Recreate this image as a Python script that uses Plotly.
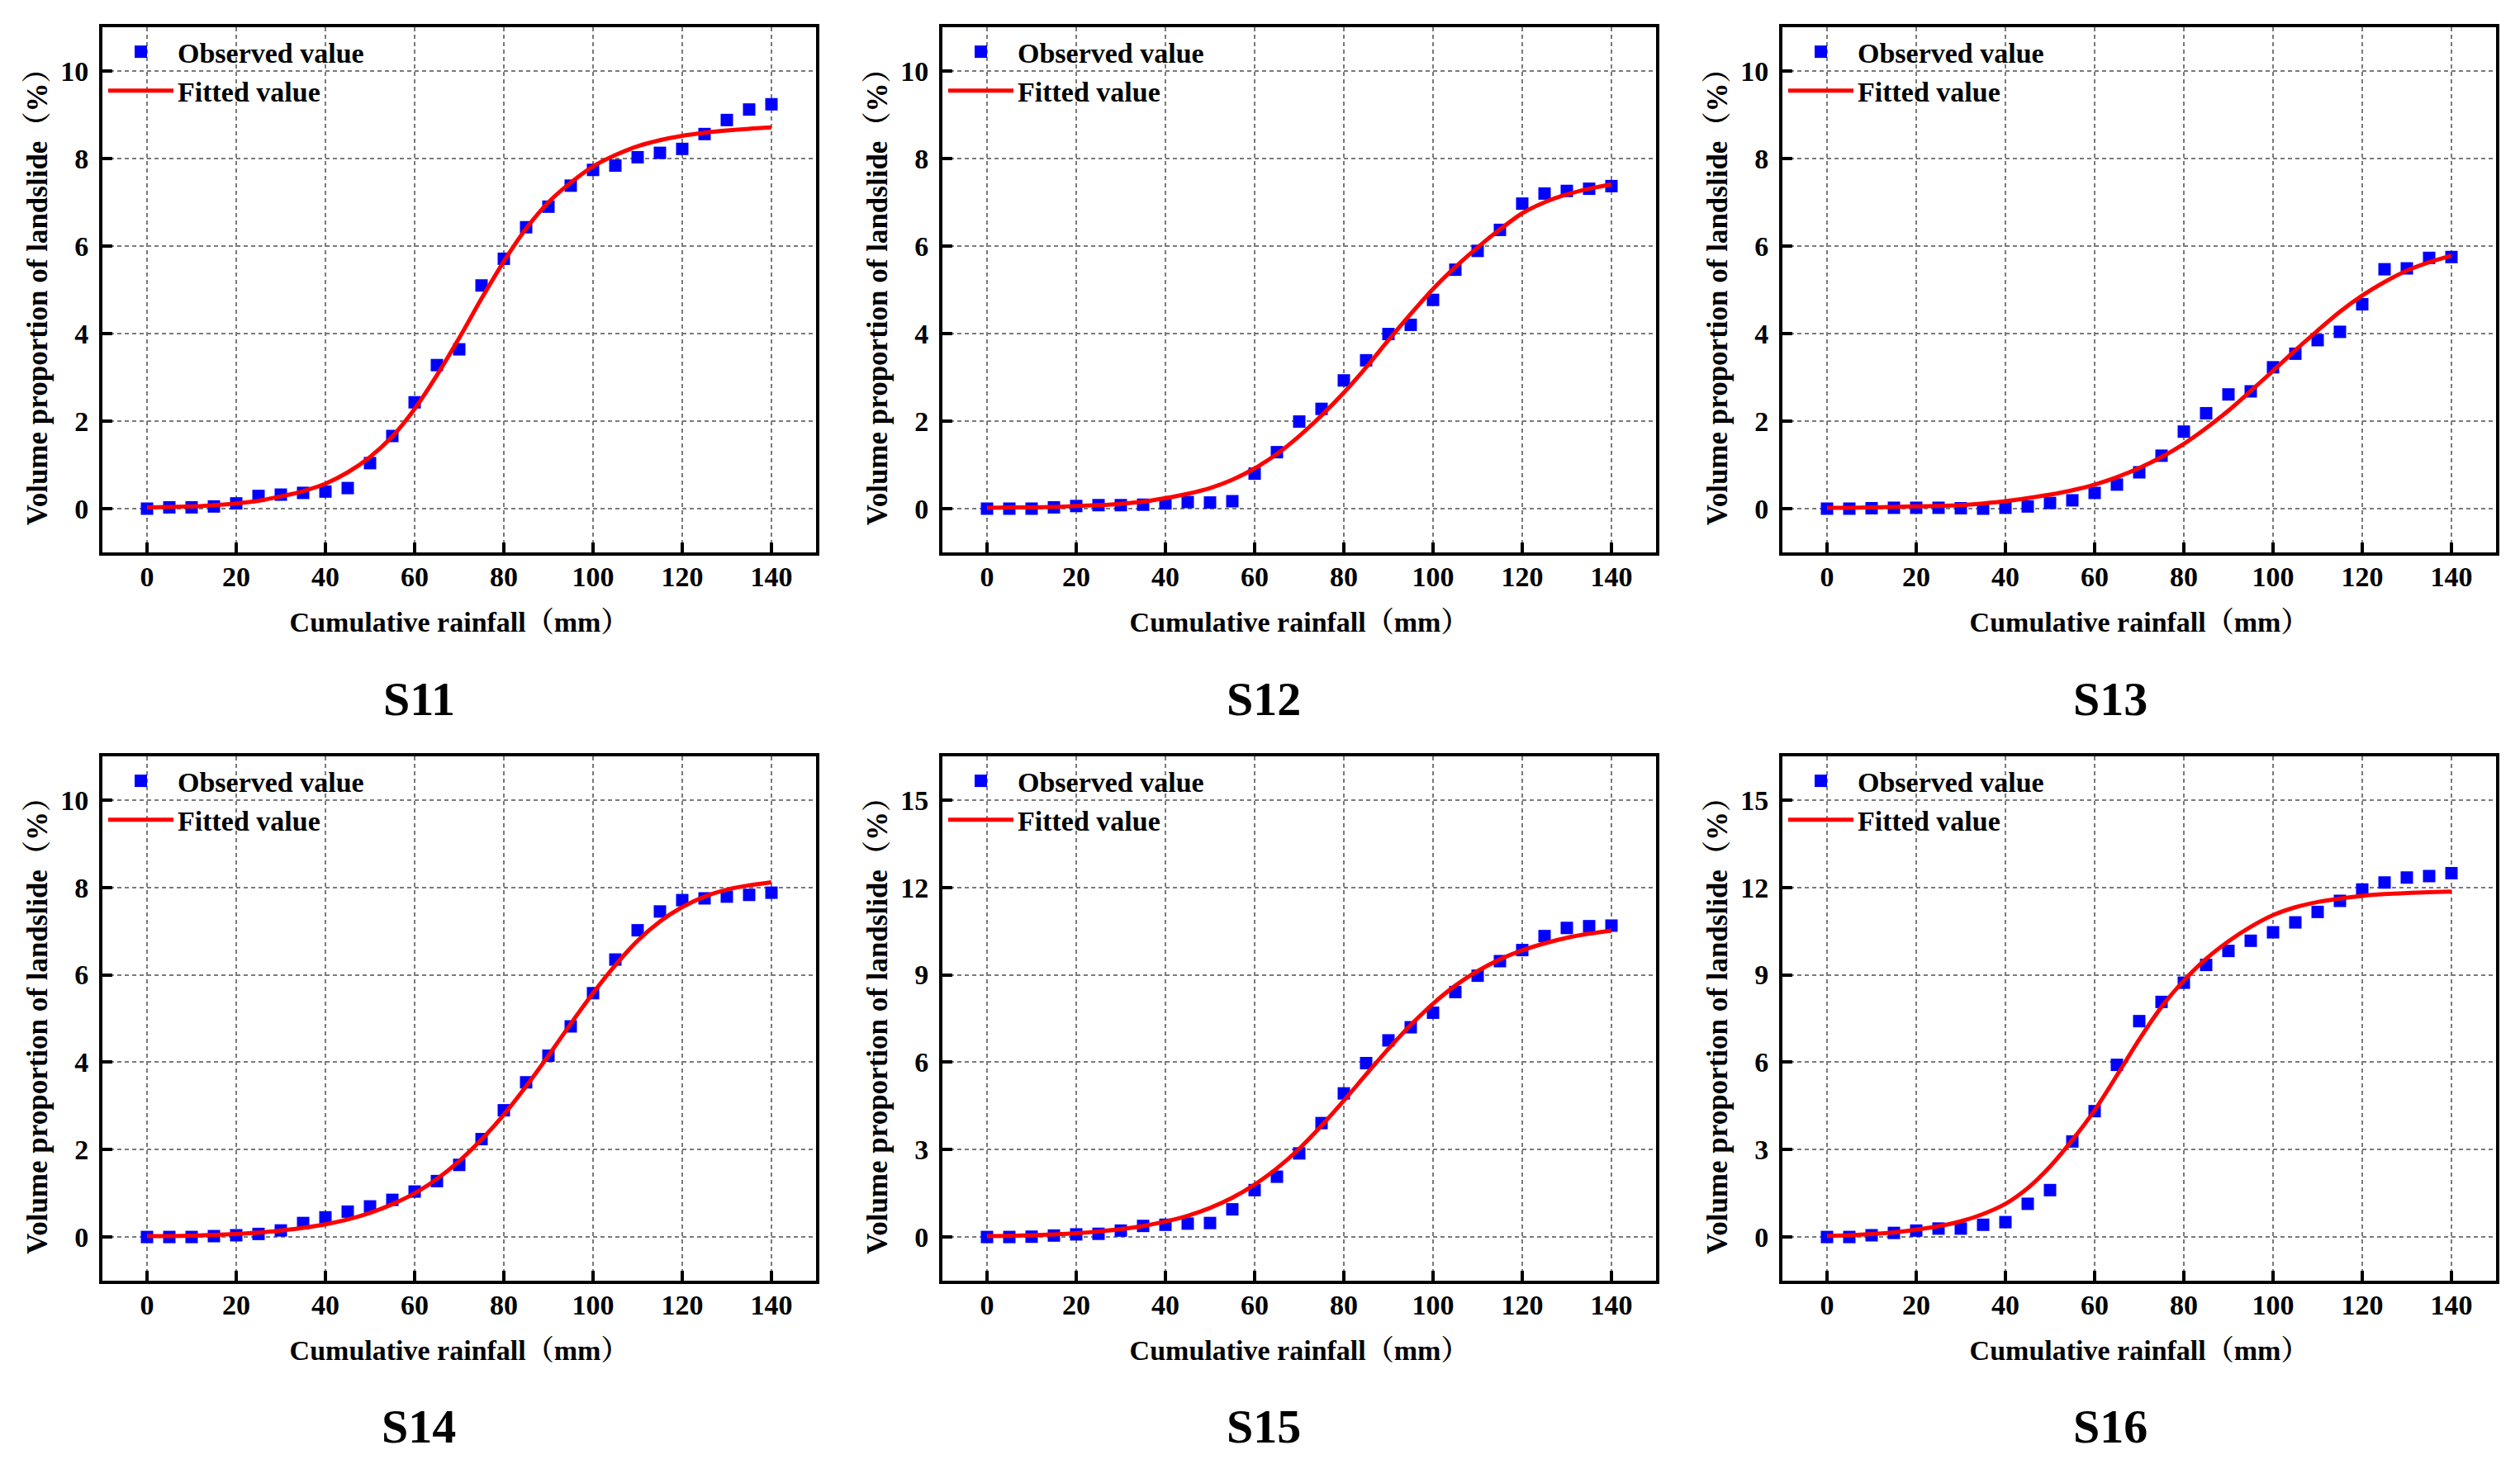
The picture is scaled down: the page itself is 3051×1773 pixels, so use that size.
import plotly.graph_objects as go

# ---------------- data ----------------
rainfall = [0, 5, 10, 15, 20, 25, 30, 35, 40, 45, 50, 55, 60, 65, 70,
            75, 80, 85, 90, 95, 100, 105, 110, 115, 120, 125, 130, 135, 140]

panels = ["S11", "S12", "S13", "S14", "S15", "S16"]

obs_S11 = [0, 0.03, 0.03, 0.05, 0.12, 0.29, 0.32, 0.36, 0.39, 0.47, 1.04, 1.66, 2.43, 3.28, 3.64,
           5.10, 5.71, 6.43, 6.90, 7.38, 7.74, 7.84, 8.03, 8.13, 8.22, 8.56, 8.88, 9.12, 9.24]
fit_S11 = [0.03, 0.04, 0.05, 0.08, 0.12, 0.18, 0.28, 0.40, 0.57, 0.83, 1.18, 1.65, 2.28, 3.05, 3.90,
           4.80, 5.65, 6.40, 7.00, 7.45, 7.82, 8.08, 8.28, 8.42, 8.52, 8.59, 8.64, 8.68, 8.71]

obs_S12 = [0, 0, 0, 0.03, 0.06, 0.08, 0.08, 0.09, 0.12, 0.15, 0.14, 0.17, 0.80, 1.29, 1.99,
           2.28, 2.93, 3.39, 3.99, 4.20, 4.77, 5.46, 5.89, 6.37, 6.97, 7.20, 7.26, 7.31, 7.37]
fit_S12 = [0.02, 0.03, 0.03, 0.04, 0.06, 0.08, 0.11, 0.16, 0.24, 0.34, 0.47, 0.66, 0.92, 1.25, 1.66,
           2.13, 2.65, 3.23, 3.85, 4.45, 5.02, 5.52, 5.97, 6.38, 6.75, 7.00, 7.18, 7.31, 7.41]

obs_S13 = [0, 0, 0.01, 0.02, 0.02, 0.02, 0.01, 0, 0.02, 0.05, 0.13, 0.19, 0.36, 0.55, 0.83,
           1.21, 1.76, 2.18, 2.61, 2.68, 3.23, 3.54, 3.85, 4.04, 4.67, 5.47, 5.49, 5.73, 5.75]
fit_S13 = [0.02, 0.02, 0.03, 0.04, 0.05, 0.06, 0.08, 0.12, 0.17, 0.24, 0.32, 0.42, 0.55, 0.72, 0.93,
           1.18, 1.48, 1.84, 2.24, 2.69, 3.15, 3.62, 4.07, 4.50, 4.87, 5.18, 5.44, 5.63, 5.78]

obs_S14 = [0, 0, 0, 0.02, 0.04, 0.07, 0.15, 0.32, 0.45, 0.58, 0.70, 0.85, 1.04, 1.28, 1.65,
           2.24, 2.90, 3.54, 4.15, 4.82, 5.58, 6.35, 7.02, 7.45, 7.71, 7.75, 7.79, 7.83, 7.88]
fit_S14 = [0.02, 0.02, 0.03, 0.05, 0.07, 0.10, 0.15, 0.21, 0.29, 0.40, 0.55, 0.75, 1.00, 1.33, 1.74,
           2.23, 2.80, 3.45, 4.15, 4.88, 5.58, 6.22, 6.78, 7.22, 7.55, 7.79, 7.95, 8.05, 8.12]

obs_S15 = [0, 0, 0.01, 0.05, 0.09, 0.11, 0.22, 0.38, 0.42, 0.46, 0.48, 0.95, 1.61, 2.07, 2.87,
           3.91, 4.93, 5.97, 6.75, 7.20, 7.70, 8.41, 8.97, 9.47, 9.85, 10.33, 10.61, 10.67, 10.69]
fit_S15 = [0.03, 0.04, 0.06, 0.09, 0.13, 0.19, 0.27, 0.38, 0.53, 0.73, 1.00, 1.35, 1.80, 2.36, 3.03,
           3.82, 4.68, 5.58, 6.46, 7.28, 8.01, 8.63, 9.13, 9.53, 9.84, 10.08, 10.27, 10.41, 10.52]

obs_S16 = [0, 0, 0.06, 0.14, 0.22, 0.29, 0.29, 0.42, 0.51, 1.14, 1.61, 3.28, 4.32, 5.91, 7.41,
           8.07, 8.73, 9.34, 9.82, 10.17, 10.46, 10.80, 11.16, 11.54, 11.93, 12.17, 12.34, 12.39, 12.49]
fit_S16 = [0.04, 0.06, 0.10, 0.16, 0.25, 0.37, 0.54, 0.79, 1.14, 1.68, 2.42, 3.33, 4.35, 5.55, 6.78,
           7.90, 8.80, 9.55, 10.15, 10.65, 11.05, 11.32, 11.50, 11.62, 11.71, 11.77, 11.81, 11.84, 11.86]

observed = [obs_S11, obs_S12, obs_S13, obs_S14, obs_S15, obs_S16]
fitted = [fit_S11, fit_S12, fit_S13, fit_S14, fit_S15, fit_S16]

x_ticks = [0, 20, 40, 60, 80, 100, 120, 140]
y_ticks_small = [0, 2, 4, 6, 8, 10]
y_ticks_large = [0, 3, 6, 9, 12, 15]
y_ticks = [y_ticks_small, y_ticks_small, y_ticks_small, y_ticks_small, y_ticks_large, y_ticks_large]
y_ranges = [[-1, 11], [-1, 11], [-1, 11], [-1, 11], [-1.5, 16.5], [-1.5, 16.5]]

x_title = "Cumulative rainfall（mm）"
y_title = "Volume proportion of landslide（%）"
obs_name = "Observed value"
fit_name = "Fitted value"

# ---------------- layout geometry ----------------
W, H = 3051, 1773
OX, OY = 3, 2
col_px = [(119 - OX, 983 - OX), (1136 - OX, 2000 - OX), (2153 - OX, 3017 - OX)]
row_px = [(27 - OY, 663 - OY), (910 - OY, 1545 - OY)]
title_x_px = [499, 1522, 2547]
title_y_px = [838, 1719]

FONT = "Liberation Serif, Times New Roman, Noto Serif CJK SC, Noto Sans CJK SC, serif"

fig = go.Figure()
layout = dict(
    width=W, height=H, autosize=False,
    margin=dict(l=0, r=0, t=0, b=0),
    paper_bgcolor="white", plot_bgcolor="white",
    font=dict(family=FONT, color="black", weight="bold"),
    annotations=[],
)

for i, name in enumerate(panels):
    r, c = divmod(i, 3)
    idx = "" if i == 0 else str(i + 1)
    xa, ya = "x" + idx, "y" + idx
    lg = "legend" + idx

    fig.add_trace(go.Scatter(
        x=rainfall, y=observed[i], mode="markers", name=obs_name,
        marker=dict(symbol="square", size=15, color="#0000FF"),
        xaxis=xa, yaxis=ya, legend=lg, showlegend=True))
    fig.add_trace(go.Scatter(
        x=rainfall, y=fitted[i], mode="lines", name=fit_name,
        line=dict(color="#FF0000", width=5, shape="spline", smoothing=0.8),
        xaxis=xa, yaxis=ya, legend=lg, showlegend=True))

    x0, x1 = col_px[c]
    y0, y1 = row_px[r]
    common = dict(
        showline=True, linecolor="black", linewidth=4, mirror=True,
        ticks="inside", ticklen=12, tickwidth=4, tickcolor="black",
        showgrid=True, gridcolor="#7a7a7a", gridwidth=2, griddash="5px,4px",
        zeroline=False,
        tickfont=dict(family=FONT, size=34, color="black", weight="bold"),
    )
    layout["xaxis" + idx] = dict(
        common, domain=[x0 / W, x1 / W], anchor=ya, range=[-10, 150],
        tickmode="array", tickvals=x_ticks, ticklabelstandoff=-4,
        title=dict(text=x_title, standoff=26,
                   font=dict(family=FONT, size=34, color="black", weight="bold")),
    )
    layout["yaxis" + idx] = dict(
        common, domain=[1 - y1 / H, 1 - y0 / H], anchor=xa, range=y_ranges[i],
        tickmode="array", tickvals=y_ticks[i], ticklabelstandoff=6,
        title=dict(text=y_title, standoff=6,
                   font=dict(family=FONT, size=35, color="black", weight="bold")),
    )
    layout[lg] = dict(
        x=(x0 + 2) / W, y=1 - (y0 + 1) / H, xanchor="left", yanchor="top",
        xref="paper", yref="paper",
        bgcolor="rgba(0,0,0,0)", borderwidth=0,
        font=dict(family=FONT, size=34, color="black", weight="bold"),
        itemwidth=79, tracegroupgap=0,
    )
    layout["annotations"].append(dict(
        text=name, x=title_x_px[c] / W, y=1 - title_y_px[r] / H,
        xref="paper", yref="paper", xanchor="center", yanchor="middle",
        showarrow=False,
        font=dict(family=FONT, size=58, color="black", weight="bold"),
    ))

fig.update_layout(**layout)
fig.write_html("out.html")
